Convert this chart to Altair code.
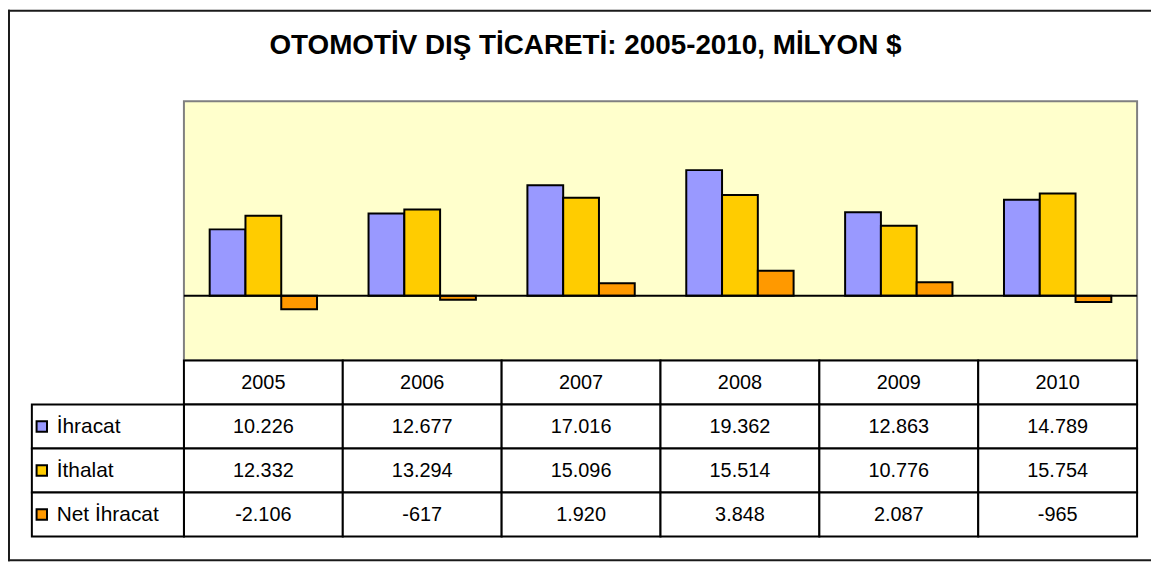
import altair as alt
import pandas as pd

# ---- data ----
years = ["2005", "2006", "2007", "2008", "2009", "2010"]
series = ["İhracat", "İthalat", "Net İhracat"]
ihracat = [10226, 12677, 17016, 19362, 12863, 14789]
ithalat = [12332, 13294, 15096, 15514, 10776, 15754]
net_ihracat = [-2106, -617, 1920, 3848, 2087, -965]
colors = ["#9999FF", "#FFCC00", "#FF9900"]
title_text = "OTOMOTİV DIŞ TİCARETİ: 2005-2010, MİLYON $"


def tr_fmt(v):
    return f"{v:,}".replace(",", ".")


rows = []
for s, vals in zip(series, [ihracat, ithalat, net_ihracat]):
    for yr, v in zip(years, vals):
        rows.append({"year": yr, "row": s, "series": s, "value": v, "label": tr_fmt(v)})
df = pd.DataFrame(rows)

hdr = pd.DataFrame({"year": years, "row": ["hdr"] * len(years), "label": years})
cells = pd.concat([hdr, df[["year", "row", "label"]]], ignore_index=True)
legend_df = pd.DataFrame({"row": series, "series": series})

# ---- layout (chart pixel coordinates) ----
W, H = 1150, 556
X0, X1 = 177, 1136
Y_TOP, Y_BOT = 92, 353
T_TOP, T_BOT = 353, 530
FONT = "Liberation Sans"

x_scale = alt.Scale(domain=years, range=[X0, X1], paddingInner=0, paddingOuter=0)
y_val = alt.Scale(domain=[-10000, 30000], range=[Y_BOT, Y_TOP], nice=False, zero=False)
row_scale = alt.Scale(domain=["hdr"] + series, range=[T_TOP, T_BOT], paddingInner=0, paddingOuter=0)
color_scale = alt.Scale(domain=series, range=colors)

one = pd.DataFrame({"t": [title_text]})

background = alt.Chart(one).mark_rect(fill="#FFFFCC", stroke="#808080", strokeWidth=2).encode(
    x=alt.value(X0), x2=alt.value(X1), y=alt.value(Y_TOP), y2=alt.value(Y_BOT)
)

zero = alt.Chart(pd.DataFrame({"z": [0]})).mark_rule(color="black", strokeWidth=2).encode(
    y=alt.Y("z:Q", scale=y_val, axis=None), x=alt.value(X0), x2=alt.value(X1)
)

bars = alt.Chart(df).mark_bar(stroke="black", strokeWidth=2).encode(
    x=alt.X("year:N", scale=x_scale, axis=None),
    xOffset=alt.XOffset("series:N", scale=alt.Scale(domain=series, paddingInner=0, paddingOuter=0.72)),
    y=alt.Y("value:Q", scale=y_val, axis=None),
    color=alt.Color("series:N", scale=color_scale, legend=None),
)

cell_rects = alt.Chart(cells).mark_rect(fill="white", stroke="black", strokeWidth=2).encode(
    x=alt.X("year:N", scale=x_scale, axis=None),
    y=alt.Y("row:N", scale=row_scale, axis=None),
)

legend_rects = alt.Chart(legend_df).mark_rect(fill="white", stroke="black", strokeWidth=2).encode(
    x=alt.value(24), x2=alt.value(X0),
    y=alt.Y("row:N", scale=row_scale, axis=None),
)

cell_text = alt.Chart(cells).mark_text(font=FONT, fontSize=20, color="black", baseline="middle", dy=1).encode(
    x=alt.X("year:N", scale=x_scale, axis=None),
    y=alt.Y("row:N", scale=row_scale, axis=None),
    text="label:N",
)

legend_keys = alt.Chart(legend_df).mark_square(size=110, stroke="black", strokeWidth=2, opacity=1).encode(
    x=alt.value(34),
    y=alt.Y("row:N", scale=row_scale, axis=None),
    color=alt.Color("series:N", scale=color_scale, legend=None),
)

legend_text = alt.Chart(legend_df).mark_text(font=FONT, fontSize=21, color="black", align="left", baseline="middle", dy=1).encode(
    x=alt.value(49),
    y=alt.Y("row:N", scale=row_scale, axis=None),
    text="series:N",
)

title = alt.Chart(one).mark_text(font=FONT, fontSize=28, fontWeight="bold", color="black", baseline="middle").encode(
    x=alt.value(581), y=alt.value(37), text="t:N"
)

border_top = alt.Chart(one).mark_rule(color="#1a1a1a", strokeWidth=2).encode(
    x=alt.value(0), x2=alt.value(W + 10), y=alt.value(1)
)
border_left = alt.Chart(one).mark_rule(color="#1a1a1a", strokeWidth=2).encode(
    x=alt.value(1), y=alt.value(0), y2=alt.value(555)
)
border_bottom = alt.Chart(one).mark_rule(color="#1a1a1a", strokeWidth=2).encode(
    x=alt.value(0), x2=alt.value(W + 10), y=alt.value(554)
)

chart = alt.layer(
    background, bars, zero, cell_rects, legend_rects, cell_text, legend_keys, legend_text,
    title, border_top, border_left, border_bottom,
).resolve_scale(y="independent").properties(
    width=W, height=H, autosize=alt.AutoSizeParams(type="none"), padding=0, background="white"
).configure_view(stroke=None)

chart.save("out.html", embed_options={"renderer": "svg", "actions": False})
